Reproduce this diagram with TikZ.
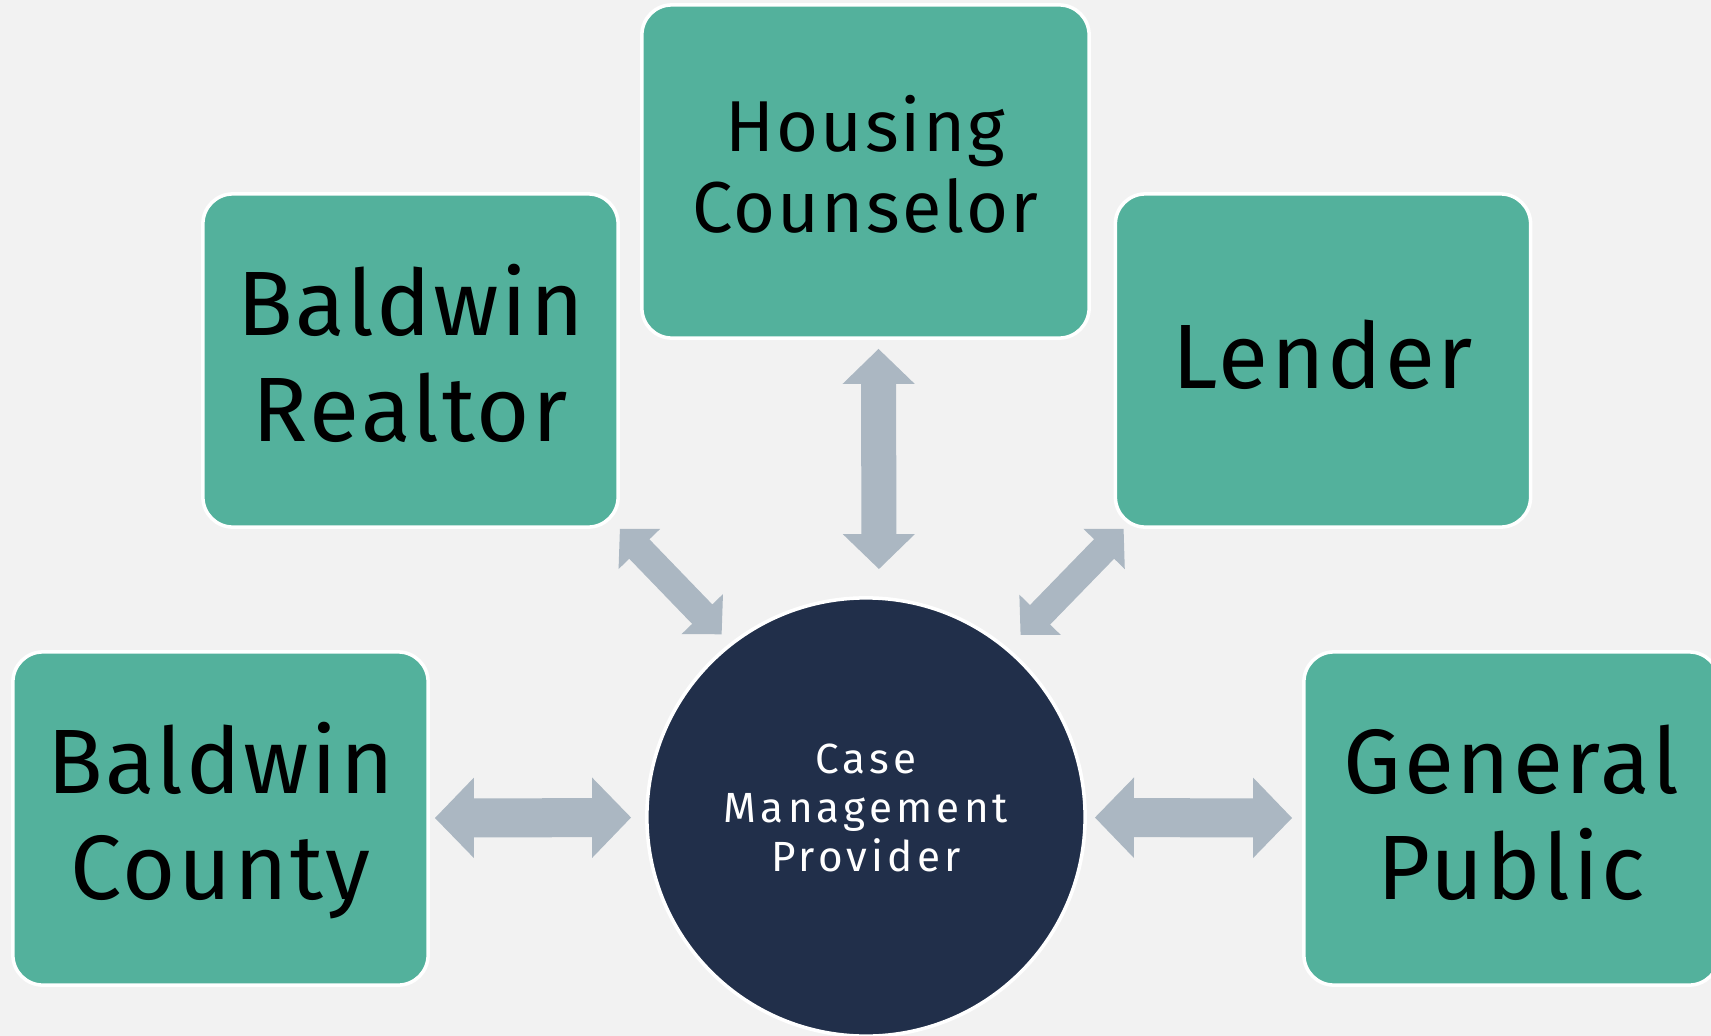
\documentclass[tikz,border=0pt]{standalone}
\usepackage{fontspec}
\setmainfont[LetterSpace=3]{Fira Sans}
\newfontfamily\hubfont[LetterSpace=10]{Fira Sans}
\usetikzlibrary{arrows.meta}
\definecolor{paper}{HTML}{F2F2F2}
\definecolor{tealbox}{HTML}{53B19C}
\definecolor{navyhub}{HTML}{212F4A}
\definecolor{linkgray}{HTML}{ABB7C2}
\begin{document}
\begin{tikzpicture}[x=0.01cm, y=-0.01cm,
    tile/.style={draw=white, line width=1pt, fill=tealbox, rounded corners=0.3cm,
        minimum width=4.15cm, minimum height=3.33cm, align=center,
        text height=48pt, text depth=2.2pt, font=\fontsize{26}{30}\selectfont},
    hlink/.style={draw=linkgray, line width=0.39cm, >={Triangle[width=0.78cm,length=0.39cm]}, <->},
    vlink/.style={draw=linkgray, line width=0.35cm, >={Triangle[width=0.7cm,length=0.35cm]}, <->},
    dlink/.style={draw=linkgray, line width=0.28cm, >={Triangle[width=0.56cm,length=0.28cm]}, <->}]
    \fill[paper] (0,0) rectangle (1711,1036);
    \clip (0,0) rectangle (1711,1036);
    \node[tile, minimum width=4.47cm, text height=36pt, text depth=1.4pt,
        font=\fontsize{20.5}{23}\selectfont] (housing) at (865.5,171.5) {Housing\\Counselor};
    \node[tile] (realtor) at (410.5,360.5) {Baldwin\\Realtor};
    \node[tile, text height=18pt, text depth=2pt] (lender) at (1323,360.5) {Lender};
    \node[tile] (county) at (220.5,818.5) {Baldwin\\County};
    \node[tile] (public) at (1511.5,818.5) {General\\Public};
    \node[circle, draw=white, line width=1pt, fill=navyhub, minimum size=4.38cm, text=white,
        align=center, text height=33pt, text depth=1.8pt,
        font=\hubfont\fontsize{12}{14}\selectfont] (hub) at (866,817) {Case\\Management\\Provider};
    \draw[vlink, shorten <=0.09cm, shorten >=0.27cm] ([xshift=0.13cm]housing.south) -- ([xshift=0.13cm]hub.north);
    \draw[hlink, shorten <=0.05cm, shorten >=0.14cm] (county) -- (hub);
    \draw[hlink, shorten <=0.08cm, shorten >=0.10cm] (hub) -- (public);
    \draw[dlink, shorten >=0.12cm] (realtor.south east) -- (hub.128);
    \draw[dlink, shorten >=0.18cm] ([xshift=0.1cm]lender.south west) -- (hub.50);
\end{tikzpicture}
\end{document}
